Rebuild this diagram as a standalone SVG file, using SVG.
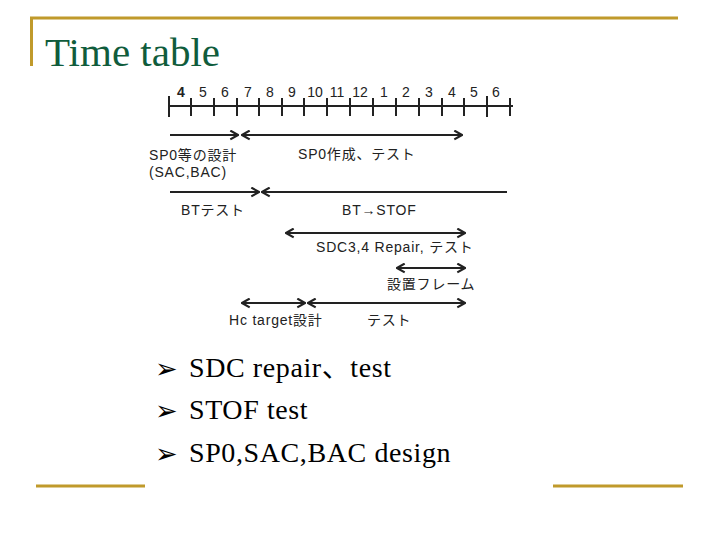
<svg xmlns="http://www.w3.org/2000/svg" width="720" height="540" viewBox="0 0 720 540">
<style>
.gold{stroke:#c09a2b;stroke-width:3;fill:none}
.title{font-family:"Liberation Serif",serif;font-size:41px;fill:#105c3c}
.num{font-family:"Liberation Sans","Noto Sans CJK JP",sans-serif;font-size:14px;fill:#222;text-anchor:middle}
.lbl{font-family:"Liberation Sans","Noto Sans CJK JP",sans-serif;font-size:14px;letter-spacing:0.8px;fill:#222}
.ax{stroke:#222;stroke-width:2;fill:none}
.arr{stroke:#222;stroke-width:2;fill:none}
.bul{font-family:"Liberation Serif","Noto Sans CJK JP",serif;font-size:28px;letter-spacing:0.6px;fill:#000}
.mark{font-family:"DejaVu Sans",sans-serif;font-size:27px;fill:#000}
</style>
<defs>
<marker id="ah" viewBox="0 0 10 10" refX="9" refY="5" markerWidth="11" markerHeight="11" markerUnits="userSpaceOnUse" orient="auto-start-reverse">
<path d="M2,1 L9,5 L2,9" fill="none" stroke="#222" stroke-width="2"/>
</marker>
</defs>
<rect width="720" height="540" fill="#fff"/>
<g id="frame">
<path class="gold" d="M30,18 H678 M31.5,17 V66"/>
<path class="gold" d="M36,486 H145 M553,486 H683"/>
</g>
<text id="title" class="title" x="45" y="66">Time table</text>
<g id="timeline">
<path class="ax" d="M168,106 H513"/>
<path class="ax" d="M169,96 V117 M191,98 V116 M214,98 V116 M237,98 V116 M259,98 V116 M282,98 V116 M304,98 V116 M327,98 V116 M350,98 V116 M373,98 V116 M396,98 V116 M419,98 V116 M442,98 V116 M464,98 V116 M487,96 V117 M510,98 V116"/>
<text class="num" y="97"><tspan x="181" font-weight="bold">4</tspan><tspan x="203">5</tspan><tspan x="225">6</tspan><tspan x="248">7</tspan><tspan x="270">8</tspan><tspan x="292">9</tspan><tspan x="315">10</tspan><tspan x="337">11</tspan><tspan x="360">12</tspan><tspan x="384">1</tspan><tspan x="406">2</tspan><tspan x="429">3</tspan><tspan x="452">4</tspan><tspan x="474">5</tspan><tspan x="496">6</tspan></text>
</g>
<g id="connectors">
<line class="arr" x1="170" y1="135" x2="238" y2="135" marker-end="url(#ah)"/>
<line class="arr" x1="242" y1="135" x2="462" y2="135" marker-start="url(#ah)" marker-end="url(#ah)"/>
<line class="arr" x1="170" y1="192" x2="259" y2="192" marker-end="url(#ah)"/>
<line class="arr" x1="262" y1="192" x2="507" y2="192" marker-start="url(#ah)"/>
<line class="arr" x1="286" y1="233" x2="465" y2="233" marker-start="url(#ah)" marker-end="url(#ah)"/>
<line class="arr" x1="397" y1="268" x2="465" y2="268" marker-start="url(#ah)" marker-end="url(#ah)"/>
<line class="arr" x1="242" y1="303" x2="305" y2="303" marker-start="url(#ah)" marker-end="url(#ah)"/>
<line class="arr" x1="308" y1="303" x2="465" y2="303" marker-start="url(#ah)" marker-end="url(#ah)"/>
</g>
<g id="n-sp0design"><text class="lbl" x="149" y="160">SP0等の設計</text><text class="lbl" x="149" y="177">(SAC,BAC)</text></g>
<g id="n-sp0make"><text class="lbl" x="298" y="159">SP0作成、テスト</text></g>
<g id="n-bttest"><text class="lbl" x="181" y="215">BTテスト</text></g>
<g id="n-btstof"><text class="lbl" x="342" y="215">BT→STOF</text></g>
<g id="n-sdc"><text class="lbl" x="316" y="252">SDC3,4 Repair, テスト</text></g>
<g id="n-frame"><text class="lbl" x="387" y="289">設置フレーム</text></g>
<g id="n-hc"><text class="lbl" x="229" y="325">Hc target設計</text></g>
<g id="n-test"><text class="lbl" x="367" y="325">テスト</text></g>
<g id="bullets">
<text class="mark" x="155" y="378">➢</text>
<text class="mark" x="155" y="420">➢</text>
<text class="mark" x="155" y="463">➢</text>
<text class="bul" x="189" y="377">SDC repair、test</text>
<text class="bul" x="189" y="419">STOF test</text>
<text class="bul" x="189" y="462">SP0,SAC,BAC design</text>
</g>
</svg>
